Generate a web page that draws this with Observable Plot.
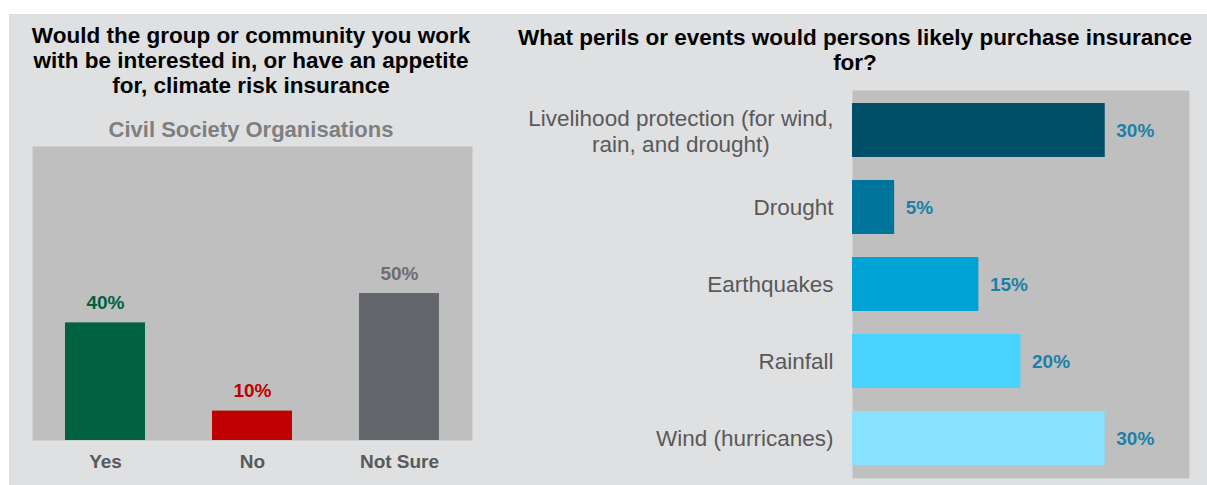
<!DOCTYPE html>
<html><head><meta charset="utf-8">
<script src="https://cdn.jsdelivr.net/npm/d3@7"></script>
<script src="https://cdn.jsdelivr.net/npm/@observablehq/plot@0.6"></script>
<style>
body{margin:0;background:#fff;font-family:"Liberation Sans",Arial,sans-serif;}
#page{position:relative;width:1207px;height:485px;overflow:hidden;}
#bg{position:absolute;left:9px;top:14px;right:0;bottom:0;background:#dfe0e2;}
.t{position:absolute;text-align:center;font-weight:bold;color:#000;white-space:nowrap;}
#c1,#c2{position:absolute;}
svg{overflow:visible;}
</style></head><body>
<div id="page"><div id="bg"></div>
<div class="t" id="t1" style="left:20px;width:462px;top:22.5px;font-size:22.5px;line-height:25px;">Would the group or community you work<br>with be interested in, or have an appetite<br>for, climate risk insurance</div>
<div class="t" id="st" style="left:20px;width:462px;top:117px;font-size:22px;line-height:26px;color:#7f7f7f;">Civil Society Organisations</div>
<div class="t" id="t2" style="left:505px;width:700px;top:24.5px;font-size:22.5px;line-height:25px;">What perils or events would persons likely purchase insurance<br>for?</div>
<div id="c1" style="left:0;top:140px;"></div>
<div id="c2" style="left:500px;top:83px;"></div>
</div>
<script>
// ---- Data ----
const answerCategories = ["Yes", "No", "Not Sure"];
const answerValues = [40, 10, 50];

const perilCategories = [
  "Livelihood protection (for wind,\nrain, and drought)",
  "Drought",
  "Earthquakes",
  "Rainfall",
  "Wind (hurricanes)"
];
const perilValues = [30, 5, 15, 20, 30];

const answers = answerCategories.map((c, i) => ({category: c, value: answerValues[i]}));
const perils = perilCategories.map((c, i) => ({peril: c, value: perilValues[i]}));

// ---- Styles ----
const FONT = '"Liberation Sans", Arial, sans-serif';
const barColors = ["#006241", "#c00000", "#63666a"];
const labelColors = {"Yes": "#006241", "No": "#c00000", "Not Sure": "#6d6e71"};
const pct = d => d.value + "%";

// ---- Left chart ----
const left = Plot.plot({
  width: 490, height: 345,
  marginLeft: 32, marginRight: 18, marginTop: 6, marginBottom: 45,
  style: {background: "transparent", fontFamily: FONT, overflow: "visible"},
  x: {domain: answerCategories, paddingInner: 0.456, paddingOuter: 0.218, label: null},
  y: {domain: [0, 100], axis: null},
  color: {domain: answerCategories, range: barColors},
  marks: [
    Plot.frame({fill: "#bfbfbf", stroke: null}),
    Plot.barY(answers, {x: "category", y: "value", fill: "category"}),
    Plot.text(answers, {x: "category", y: "value", text: pct, dy: -20, lineAnchor: "middle",
      fill: d => labelColors[d.category], fontWeight: "bold", fontSize: 19}),
    Plot.axisX({tickSize: 0, tickPadding: 14, label: null, fontSize: 19, fontWeight: "bold", fill: "#595959"})
  ]
});
document.getElementById("c1").appendChild(left);

// ---- Right chart ----
const LABEL_SIZE = 22.5;
const ctx = document.createElement("canvas").getContext("2d");
ctx.font = LABEL_SIZE + "px " + FONT;
const multi = perils.filter(d => d.peril.includes("\n"));
const single = perils.filter(d => !d.peril.includes("\n"));
const longest = Math.max(...multi[0].peril.split("\n").map(s => ctx.measureText(s).width));

const right = Plot.plot({
  width: 707, height: 402,
  marginLeft: 352, marginRight: 18, marginTop: 7, marginBottom: 7,
  style: {background: "transparent", fontFamily: FONT, overflow: "visible"},
  y: {domain: perilCategories, paddingInner: 0.293, paddingOuter: 0.14, axis: null},
  x: {domain: [0, 40], axis: null},
  color: {domain: perilCategories, range: ["#004f69", "#00759c", "#00a3d3", "#48d4ff", "#87e2fe"]},
  marks: [
    Plot.frame({fill: "#bfbfbf", stroke: null}),
    Plot.barX(perils, {y: "peril", x: "value", fill: "peril"}),
    Plot.text(perils, {y: "peril", x: "value", text: pct, dx: 11, textAnchor: "start",
      fill: "#1e7fa6", fontWeight: "bold", fontSize: 19}),
    Plot.text(single, {y: "peril", text: "peril", frameAnchor: "left", textAnchor: "end", dx: -19,
      fill: "#595959", fontSize: LABEL_SIZE}),
    Plot.text(multi, {y: "peril", text: "peril", frameAnchor: "left", textAnchor: "middle",
      dx: -19 - longest / 2, lineHeight: 1.16, fill: "#595959", fontSize: LABEL_SIZE})
  ]
});
document.getElementById("c2").appendChild(right);
</script>
</body></html>
